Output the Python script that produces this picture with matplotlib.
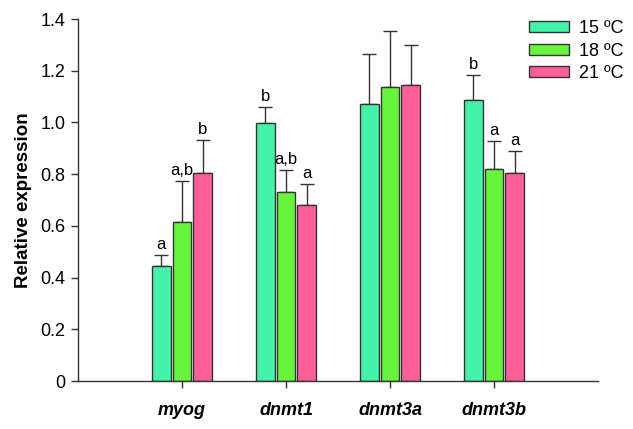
import matplotlib
matplotlib.use("Agg")
import matplotlib.pyplot as plt
import numpy as np

plt.rcParams["font.family"] = ["Liberation Sans", "DejaVu Sans"]

# data
genes = ["myog", "dnmt1", "dnmt3a", "dnmt3b"]
temps = ["15 ºC", "18 ºC", "21 ºC"]
means_15 = [0.445, 0.999, 1.070, 1.085]
means_18 = [0.615, 0.731, 1.136, 0.819]
means_21 = [0.803, 0.681, 1.146, 0.804]
err_15 = [0.043, 0.062, 0.194, 0.098]
err_18 = [0.160, 0.085, 0.217, 0.109]
err_21 = [0.129, 0.080, 0.153, 0.087]
letters_15 = ["a", "b", "", "b"]
letters_18 = ["a,b", "a,b", "", "a"]
letters_21 = ["b", "a", "", "a"]

colors = ["#44F2A9", "#66F53A", "#FF5F99"]

fig = plt.figure(figsize=(6.33, 4.29), dpi=100)
ax = fig.add_axes([78 / 633, 48 / 429, 520 / 633, 362 / 429])

x = np.arange(1, len(genes) + 1)
offsets = [-0.2, 0.0, 0.2]
width = 0.18
series = zip(temps, [means_15, means_18, means_21], [err_15, err_18, err_21],
             [letters_15, letters_18, letters_21], colors, offsets)
for label, means, errs, letters, c, off in series:
    ax.bar(x + off, means, width, color=c, edgecolor="#333333", linewidth=1.0,
           label=label, zorder=2)
    ax.errorbar(x + off, means, yerr=[np.zeros(len(errs)), errs], fmt="none",
                ecolor="#333333", elinewidth=1.0, capsize=5, capthick=1.0, zorder=1)
    for xi, m, e, t in zip(x + off, means, errs, letters):
        if t:
            ax.text(xi, m + e + 0.012, t, ha="center", va="bottom", fontsize=12)

ax.set_xlim(0, 5)
ax.set_ylim(0, 1.4)
ax.set_xticks(x)
ax.set_xticklabels(genes, fontsize=13, fontweight="bold", fontstyle="italic")
ax.set_yticks(np.arange(0, 1.41, 0.2))
ax.set_yticklabels(["0"] + [f"{v:.1f}" for v in np.arange(0.2, 1.41, 0.2)], fontsize=13)
ax.tick_params(axis="both", direction="out", length=5, color="#333333", width=1)
ax.tick_params(axis="x", pad=10)
ax.tick_params(axis="y", pad=4)
ax.set_ylabel("Relative expression", fontsize=13.5, fontweight="bold", labelpad=6)

for s in ["top", "right"]:
    ax.spines[s].set_visible(False)
for s in ["left", "bottom"]:
    ax.spines[s].set_color("#333333")
    ax.spines[s].set_linewidth(1.0)

leg = fig.legend(loc="upper left", bbox_to_anchor=(513 / 633, 1 - 4 / 429), frameon=False,
                 fontsize=13, handlelength=2.2, handleheight=0.55,
                 labelspacing=0.3, handletextpad=0.55)

fig.savefig("out.png", dpi=100)
